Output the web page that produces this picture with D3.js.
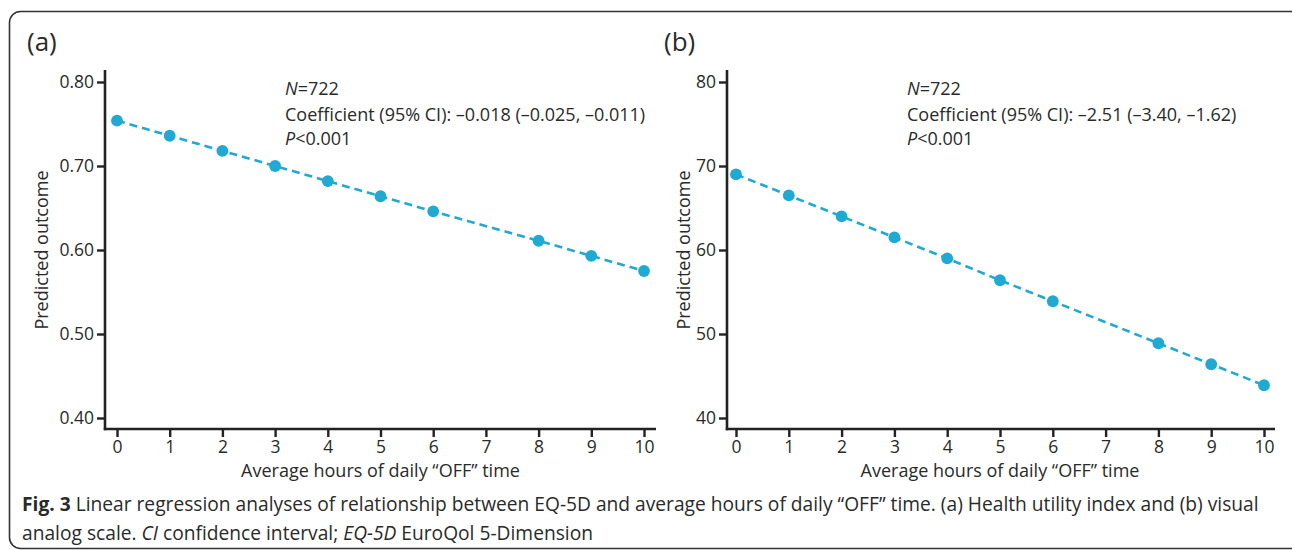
<!DOCTYPE html>
<html>
<head>
<meta charset="utf-8">
<script src="https://cdn.jsdelivr.net/npm/d3@7"></script>
<style>
  html, body { margin: 0; padding: 0; background: #fff; }
  svg { display: block; font-family: "Open Sans", sans-serif; }
</style>
</head>
<body>
<div id="chart"></div>
<script>
// EQ-5D vs average daily OFF time, two panels

const hours = [0, 1, 2, 3, 4, 5, 6, 8, 9, 10];
const xTicks = [0, 1, 2, 3, 4, 5, 6, 7, 8, 9, 10];

const utilityValues = [0.754, 0.736, 0.718, 0.700, 0.682, 0.664, 0.646, 0.611, 0.593, 0.575];
const utilityTicks = [0.40, 0.50, 0.60, 0.70, 0.80];

const vasValues = [69.0, 66.5, 64.0, 61.5, 59.0, 56.4, 53.9, 48.9, 46.4, 43.9];
const vasTicks = [40, 50, 60, 70, 80];

const panels = [
  { label: '(a)', values: utilityValues, ticks: utilityTicks, domain: [0.40, 0.80], fmt: d3.format('.2f'),
    coef: 'Coefficient (95% CI): \u20130.018 (\u20130.025, \u20130.011)',
    axisX: 105, x0: 117, x1: 644, xEnd: 656, labelX: 27, yTitleX: 48, noteX: 285 },
  { label: '(b)', values: vasValues, ticks: vasTicks, domain: [40, 80], fmt: d3.format('d'),
    coef: 'Coefficient (95% CI): \u20132.51 (\u20133.40, \u20131.62)',
    axisX: 727, x0: 736, x1: 1264, xEnd: 1275, labelX: 664, yTitleX: 690, noteX: 907 }
];

const width = 1292, height = 550;
const blue = '#1fa9d3';
const ink = '#222';
const textInk = '#2a2a2a';

const svg = d3.select('#chart').append('svg')
  .attr('width', width)
  .attr('height', height);

// outer frame
svg.append('rect')
  .attr('x', 9.5).attr('y', 11.5)
  .attr('width', 1292).attr('height', 537)
  .attr('rx', 11)
  .attr('fill', 'none')
  .attr('stroke', '#333')
  .attr('stroke-width', 1.6);

const axisY = 429;

panels.forEach(p => {
  const x = d3.scaleLinear().domain([0, 10]).range([p.x0, p.x1]);
  const y = d3.scaleLinear().domain(p.domain).range([418, 82]);
  const g = svg.append('g');

  g.append('text')
    .attr('x', p.labelX).attr('y', 51)
    .attr('font-size', 26).attr('fill', textInk)
    .text(p.label);

  // y axis
  const ya = g.append('g')
    .attr('transform', `translate(${p.axisX},0)`)
    .call(d3.axisLeft(y).tickValues(p.ticks).tickFormat(p.fmt).tickSize(8).tickPadding(3));
  ya.select('.domain').remove();

  // x axis
  const xa = g.append('g')
    .attr('transform', `translate(0,${axisY})`)
    .call(d3.axisBottom(x).tickValues(xTicks).tickFormat(d3.format('d')).tickSize(8).tickPadding(4));
  xa.select('.domain').remove();

  [ya, xa].forEach(a => {
    a.selectAll('line').attr('stroke', ink).attr('stroke-width', 2.4);
    a.selectAll('text').attr('font-size', 17.5).attr('fill', textInk)
      .attr('font-family', '"Open Sans", sans-serif');
  });

  g.append('line')
    .attr('x1', p.axisX).attr('x2', p.axisX)
    .attr('y1', 70).attr('y2', axisY + 1.2)
    .attr('stroke', ink).attr('stroke-width', 2.6);
  g.append('line')
    .attr('x1', p.axisX - 1.2).attr('x2', p.xEnd)
    .attr('y1', axisY).attr('y2', axisY)
    .attr('stroke', ink).attr('stroke-width', 2.6);

  g.append('text')
    .attr('transform', `translate(${p.yTitleX},250) rotate(-90)`)
    .attr('text-anchor', 'middle')
    .attr('font-size', 18).attr('fill', textInk)
    .text('Predicted outcome');

  g.append('text')
    .attr('x', (p.x0 + p.x1) / 2).attr('y', 477)
    .attr('text-anchor', 'middle')
    .attr('font-size', 18).attr('fill', textInk)
    .text('Average hours of daily \u201cOFF\u201d time');

  // fitted line + points
  const pts = hours.map((h, i) => [h, p.values[i]]);
  g.append('path')
    .datum(pts)
    .attr('d', d3.line().x(d => x(d[0])).y(d => y(d[1])))
    .attr('fill', 'none')
    .attr('stroke', blue)
    .attr('stroke-width', 2.6)
    .attr('stroke-dasharray', '8,5');

  g.selectAll('circle')
    .data(pts)
    .enter()
    .append('circle')
    .attr('cx', d => x(d[0]))
    .attr('cy', d => y(d[1]))
    .attr('r', 5.9)
    .attr('fill', blue);

  // stats note
  const note = g.append('text').attr('font-size', 18).attr('fill', textInk);
  const l1 = note.append('tspan').attr('x', p.noteX).attr('y', 95);
  l1.append('tspan').attr('font-style', 'italic').text('N');
  l1.append('tspan').text('=722');
  note.append('tspan').attr('x', p.noteX).attr('y', 121).text(p.coef);
  const l3 = note.append('tspan').attr('x', p.noteX).attr('y', 145);
  l3.append('tspan').attr('font-style', 'italic').text('P');
  l3.append('tspan').text('<0.001');
});

// caption
const cap = svg.append('text').attr('font-size', 19.2).attr('fill', textInk);
const c1 = cap.append('tspan').attr('x', 22).attr('y', 511);
c1.append('tspan').attr('font-weight', 'bold').text('Fig. 3');
c1.append('tspan').text(' Linear regression analyses of relationship between EQ-5D and average hours of daily \u201cOFF\u201d time. (a) Health utility index and (b) visual');
const c2 = cap.append('tspan').attr('x', 22).attr('y', 540);
c2.append('tspan').text('analog scale. ');
c2.append('tspan').attr('font-style', 'italic').text('CI');
c2.append('tspan').text(' confidence interval; ');
c2.append('tspan').attr('font-style', 'italic').text('EQ-5D');
c2.append('tspan').text(' EuroQol 5-Dimension');
</script>
</body>
</html>
